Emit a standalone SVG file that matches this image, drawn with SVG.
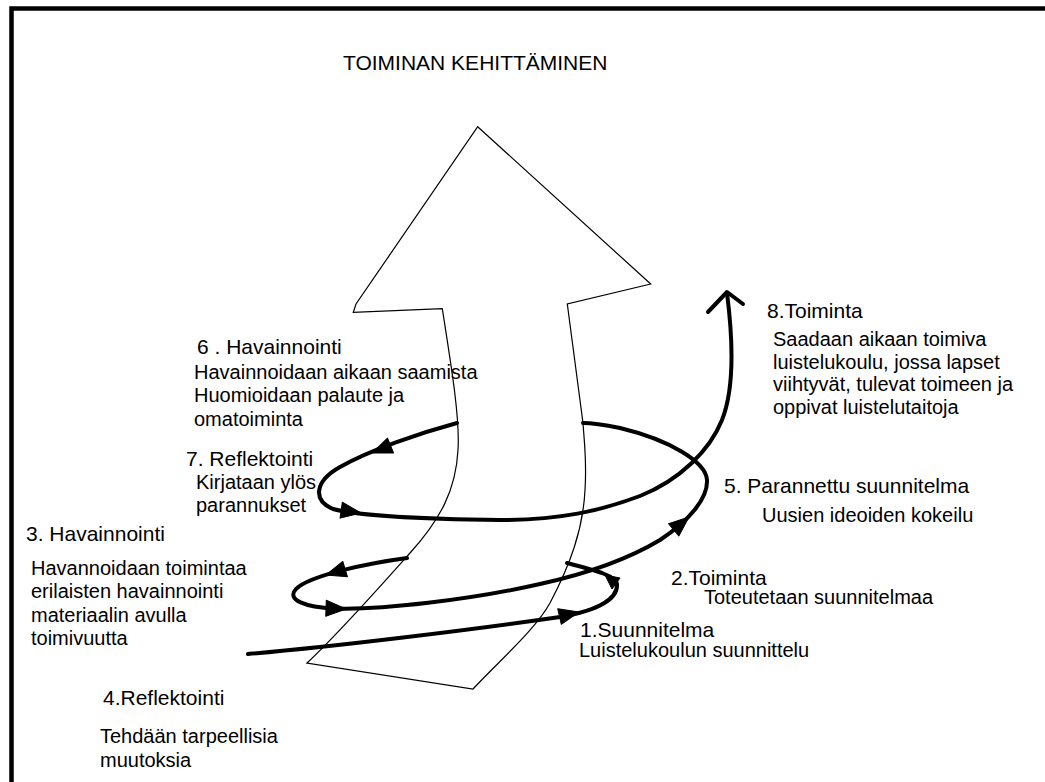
<svg xmlns="http://www.w3.org/2000/svg" xmlns:xlink="http://www.w3.org/1999/xlink" width="1045" height="782" viewBox="0 0 1045 782">
<style>
.t{font-family:"Liberation Sans",Arial,sans-serif;font-size:20px;fill:#000}
.h{font-size:21px}
.wire{fill:none;stroke:#000;stroke-width:4;stroke-linecap:round;stroke-linejoin:round}
.shape{fill:#fff;stroke:#000;stroke-width:1.2;stroke-linejoin:miter}
.ah{fill:#000;stroke:#000;stroke-width:1;stroke-linejoin:round}
</style>
<defs>
<path id="tri" d="M0,0 L-20,-8 L-20,8 Z"/>
</defs>
<rect x="0" y="0" width="1045" height="782" fill="#fff"/>
<g id="frame">
<rect x="11.5" y="8.5" width="1045" height="800" fill="none" stroke="#000" stroke-width="4.5"/>
</g>
<g id="node-title">
<text class="t h" x="343" y="70">TOIMINAN KEHITTÄMINEN</text>
</g>
<g id="development-arrow">
<path class="shape" d="M477.7,126.7 L650.7,284 L567.3,304 L583,423 C584,440 587,460 585,490 C583,530 570,565 550,603 C535,630 500,660 473,689 L307,663 C340,632 385,581 410,553 C440,520 456,490 458,450 C460,420 452,370 442.3,308.7 L353.3,312.3 L356,304 Z"/>
</g>
<g id="connectors">
<path class="wire" d="M248,654 C330,647 470,630 560,617 C600,610 618,598 617,584 C616,576 598,571 567,563"/>
<path class="wire" d="M407,558 C370,563 310,575 296,589 C286,600 305,607 335,608.5 C380,610 470,600 540,584 C590,573 630,558 660,540 C690,520 708,498 707,480 C706,462 670,440 620,428 C605,425 595,423 583,423"/>
<path class="wire" d="M457,423 C420,433 370,450 340,467 C315,481 312,500 333,509 C360,516 420,519 500,520 C560,520 600,511 640,496 C680,480 710,450 722,420 C734,390 733,340 727,293"/>
<path class="wire" d="M708,312 L727,292 L743,304" stroke-linejoin="miter"/>
<use xlink:href="#tri" class="ah" transform="translate(579,612) rotate(-13)"/>
<polygon class="ah" points="605,575 620,578 612,589"/>
<use xlink:href="#tri" class="ah" transform="translate(326,575) rotate(163)"/>
<use xlink:href="#tri" class="ah" transform="translate(346,609) rotate(2)"/>
<use xlink:href="#tri" class="ah" transform="translate(689,517) rotate(-40)"/>
<use xlink:href="#tri" class="ah" transform="translate(372,453) rotate(158)"/>
<use xlink:href="#tri" class="ah" transform="translate(361,513) rotate(8)"/>
</g>
<g id="node-1">
<text class="t h" x="580" y="637">1.Suunnitelma</text>
<text class="t" x="579" y="657">Luistelukoulun suunnittelu</text>
</g>
<g id="node-2">
<text class="t h" x="671" y="585">2.Toiminta</text>
<text class="t" x="704" y="604">Toteutetaan suunnitelmaa</text>
</g>
<g id="node-3">
<text class="t h" x="26" y="541">3. Havainnointi</text>
<text class="t" x="31" y="575">Havannoidaan toimintaa</text>
<text class="t" x="31" y="598">erilaisten havainnointi</text>
<text class="t" x="31" y="622">materiaalin avulla</text>
<text class="t" x="31" y="645">toimivuutta</text>
</g>
<g id="node-4">
<text class="t h" x="103" y="705">4.Reflektointi</text>
<text class="t" x="100" y="743">Tehdään tarpeellisia</text>
<text class="t" x="100" y="767">muutoksia</text>
</g>
<g id="node-5">
<text class="t h" x="724" y="493">5. Parannettu suunnitelma</text>
<text class="t" x="762" y="522">Uusien ideoiden kokeilu</text>
</g>
<g id="node-6">
<text class="t h" x="197" y="354">6 . Havainnointi</text>
<text class="t" x="194" y="379">Havainnoidaan aikaan saamista</text>
<text class="t" x="194" y="402">Huomioidaan palaute ja</text>
<text class="t" x="194" y="426">omatoiminta</text>
</g>
<g id="node-7">
<text class="t h" x="186" y="466">7. Reflektointi</text>
<text class="t" x="196" y="489">Kirjataan ylös</text>
<text class="t" x="196" y="512">parannukset</text>
</g>
<g id="node-8">
<text class="t h" x="767" y="318">8.Toiminta</text>
<text class="t" x="773" y="346">Saadaan aikaan toimiva</text>
<text class="t" x="773" y="369">luistelukoulu, jossa lapset</text>
<text class="t" x="773" y="391">viihtyvät, tulevat toimeen ja</text>
<text class="t" x="773" y="414">oppivat luistelutaitoja</text>
</g>
</svg>
